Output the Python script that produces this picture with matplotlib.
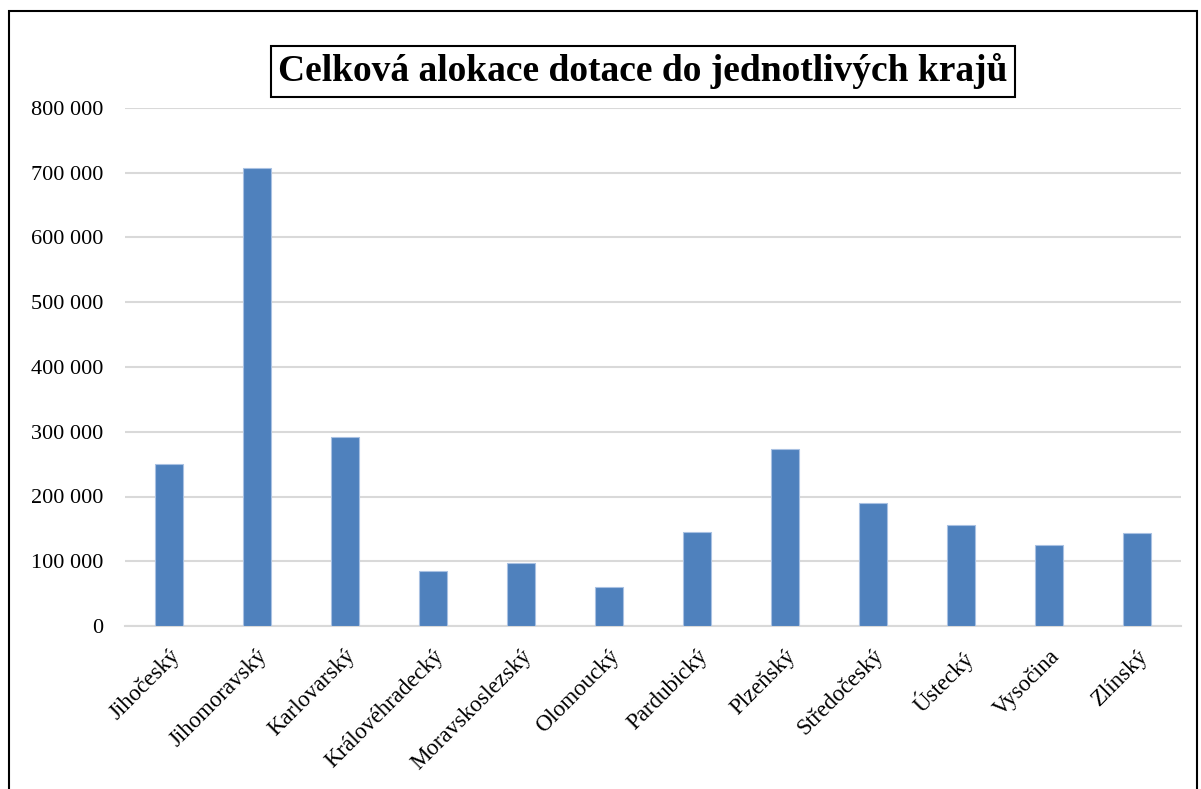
import matplotlib
matplotlib.use("Agg")
import matplotlib.pyplot as plt
from matplotlib.patches import Rectangle

categories = ["Jihočeský", "Jihomoravský", "Karlovarský", "Královéhradecký",
              "Moravskoslezský", "Olomoucký", "Pardubický", "Plzeňský",
              "Středočeský", "Ústecký", "Vysočina", "Zlínský"]
values = [250000, 707000, 292000, 85000, 97000, 60000, 145000, 273000,
          190000, 156000, 125000, 143000]
yticks = [0, 100000, 200000, 300000, 400000, 500000, 600000, 700000, 800000]
ytick_labels = ["0", "100 000", "200 000", "300 000", "400 000", "500 000",
                "600 000", "700 000", "800 000"]
title = "Celková alokace dotace do jednotlivých krajů"

plt.rcParams['font.family'] = ['Liberation Serif', 'DejaVu Serif']

W, H = 1201, 789
fig = plt.figure(figsize=(W / 100, H / 100), dpi=100)
ax = fig.add_axes([125 / W, 1 - 626 / H, (1181 - 125) / W, (626 - 108) / H])

x = list(range(len(categories)))
ax.bar(x, values, width=0.32, color="#4F81BD", edgecolor="#a9c1e2",
       linewidth=0.8, zorder=3)
ax.set_xlim(-0.5, len(categories) - 0.5)
ax.set_ylim(0, 800000)
ax.set_yticks(yticks)
ax.set_yticklabels(ytick_labels, fontsize=16)
ax.set_xticks(x)
ax.set_xticklabels(categories, rotation=45, ha="right", rotation_mode="anchor",
                   fontsize=16.5)
ax.tick_params(axis="both", length=0)
ax.tick_params(axis="y", pad=15.5)
ax.tick_params(axis="x", pad=14)
ax.grid(axis="y", color="#d9d9d9", linewidth=1.5, zorder=0)
for s in ["top", "right", "left"]:
    ax.spines[s].set_visible(False)
ax.spines["bottom"].set_color("#d9d9d9")
ax.spines["bottom"].set_linewidth(1.5)

fig.text(643 / W, 1 - 71 / H, title, ha="center", va="center",
         fontsize=27, fontweight="bold",
         bbox=dict(boxstyle="square,pad=0.2", facecolor="white",
                   edgecolor="black", linewidth=1.5))

fig.patches.append(Rectangle((9 / W, -0.01), (1197 - 9) / W, 1.01 - 11 / H,
                             transform=fig.transFigure, fill=False,
                             edgecolor="black", linewidth=1.5))

fig.savefig("out.png", dpi=100)
